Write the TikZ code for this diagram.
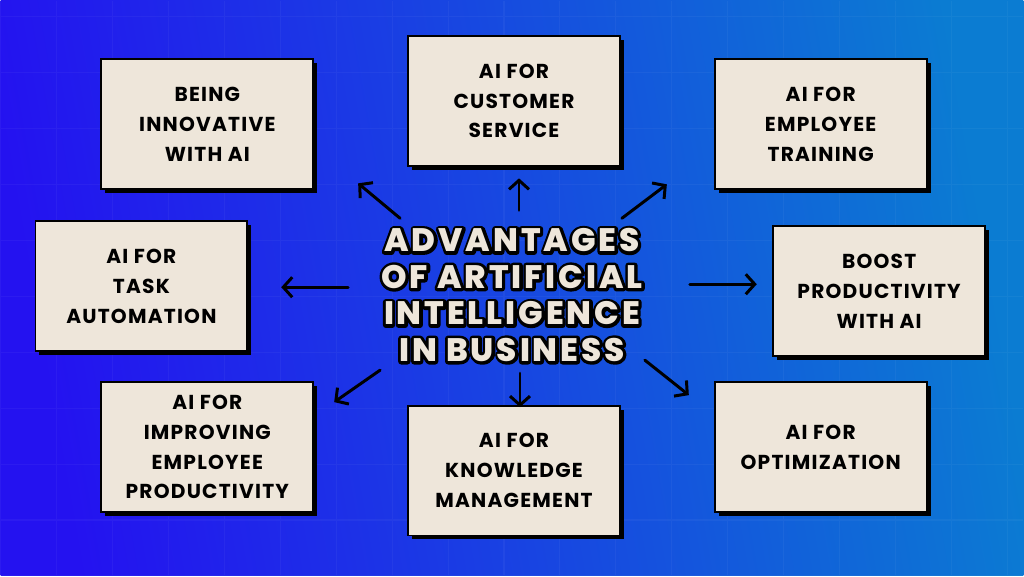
\documentclass[tikz,border=0pt]{standalone}
\usepackage{fontspec}
\setmainfont{Poppins}[UprightFont=* Bold]
\newfontfamily\heavyfont{Poppins}[UprightFont=* ExtraBold, LetterSpace=9]
\newfontfamily\cardfont{Poppins}[UprightFont=* Bold, LetterSpace=6]
\usetikzlibrary{arrows.meta,shadows}

\definecolor{bgleft}{HTML}{2412F0}
\definecolor{bgright}{HTML}{0B7CD2}
\definecolor{paper}{HTML}{EEE6DA}

% outlined lettering (stroke only)
\newcommand{\strokedtext}[1]{\special{pdf:literal direct 1 Tr 3.4 w 1 j}#1\special{pdf:literal direct 0 Tr}}

\tikzset{
  card/.style={draw=black, line width=1.1pt, fill=paper, minimum width=4.24cm,
    minimum height=2.6cm, align=center, text=black,
    font=\cardfont\fontsize{11.5}{17}\selectfont,
    drop shadow={shadow xshift=0.08cm, shadow yshift=-0.08cm, fill=black, opacity=1}},
  pointer/.style={line width=1.7pt, line cap=round, -{Straight Barb[length=1.8mm,width=4mm]}},
  headline/.style={align=center, font=\heavyfont\fontsize{18.5}{20.8}\selectfont}
}

\begin{document}
\begin{tikzpicture}
% Background
\shade[shading=axis, left color=bgleft, right color=bgright, shading angle=100]
  (0,0) rectangle (20.48,11.52);
\draw[white, opacity=0.04, line width=0.6pt, step=1.12] (0,0) grid (20.48,11.52);
\useasboundingbox (0,0) rectangle (20.48,11.52);

% Title
\node[headline, text=black] (titleline) at (10.24,5.62)
  {\strokedtext{ADVANTAGES}\\\strokedtext{OF ARTIFICIAL}\\\strokedtext{INTELLIGENCE}\\\strokedtext{IN BUSINESS}};
\node[headline, text=paper] (title) at (10.24,5.62)
  {ADVANTAGES\\OF ARTIFICIAL\\INTELLIGENCE\\IN BUSINESS};

% Boxes
\node[card] (innov) at (4.14,9.04) {BEING\\INNOVATIVE\\WITH AI};
\node[card] (service) at (10.28,9.51) {AI FOR\\CUSTOMER\\SERVICE};
\node[card] (training) at (16.42,9.04) {AI FOR\\EMPLOYEE\\TRAINING};
\node[card] (task) at (2.82,5.80) {AI FOR\\TASK\\AUTOMATION};
\node[card] (boost) at (17.59,5.70) {BOOST\\PRODUCTIVITY\\WITH AI};
\node[card] (improve) at (4.14,2.58) {AI FOR\\IMPROVING\\EMPLOYEE\\PRODUCTIVITY};
\node[card] (knowledge) at (10.28,2.11) {AI FOR\\KNOWLEDGE\\MANAGEMENT};
\node[card] (optim) at (16.42,2.58) {AI FOR\\OPTIMIZATION};

% Arrow ends
\coordinate (s1) at (8.0,7.16);   \coordinate (e1) at (7.16,7.86);
\coordinate (s2) at (10.38,7.32); \coordinate (e2) at (10.38,7.96);
\coordinate (s3) at (12.44,7.16); \coordinate (e3) at (13.34,7.84);
\coordinate (s4) at (6.96,5.78);  \coordinate (e4) at (5.62,5.78);
\coordinate (s5) at (13.8,5.84);  \coordinate (e5) at (15.14,5.84);
\coordinate (s6) at (7.6,4.12);   \coordinate (e6) at (6.68,3.48);
\coordinate (s7) at (10.4,4.06);  \coordinate (e7) at (10.4,3.38);
\coordinate (s8) at (12.9,4.32);  \coordinate (e8) at (13.78,3.62);
\foreach \i in {1,...,8}
  \draw[pointer] (s\i) -- (e\i);
\end{tikzpicture}
\end{document}
